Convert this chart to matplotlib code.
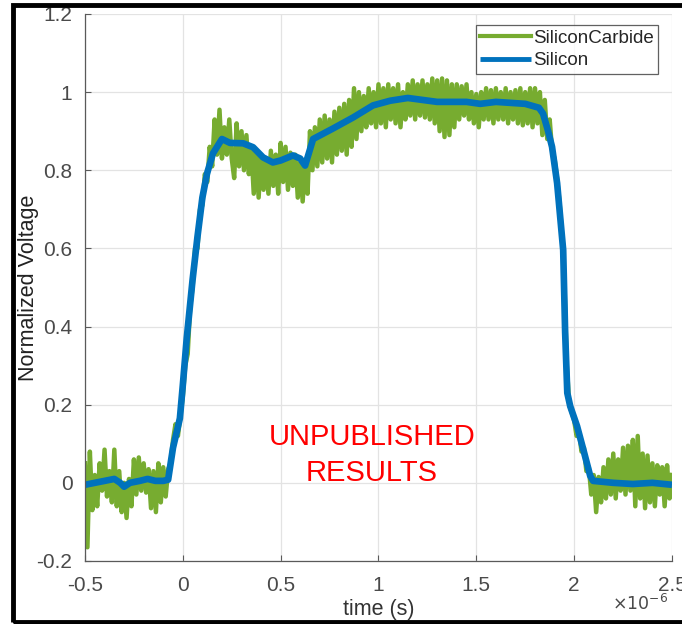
import numpy as np
import matplotlib
matplotlib.use("Agg")
from matplotlib import pyplot as plt
from matplotlib.patches import Rectangle

plt.rcParams['font.family'] = ['Liberation Sans', 'DejaVu Sans']

# SiliconCarbide probe, sampled every 12.5 ns starting at -0.5 us
sic_t0 = -0.5
sic_dt = 0.0125
sic_v = [
    0.05, -0.165, 0.08, -0.07, 0.02, -0.06, 0.05, -0.02,
    0.085, -0.035, 0.03, -0.05, 0.085, -0.06, 0.03, -0.075,
    0.0, -0.09, 0.01, -0.06, 0.06, -0.03, 0.065, -0.02,
    0.05, -0.025, 0.035, -0.065, 0.03, -0.075, 0.05, -0.05,
    0.04, -0.035, 0.035, 0.05, 0.11, 0.15, 0.12, 0.17,
    0.22, 0.3, 0.33, 0.45, 0.5, 0.6, 0.6, 0.7,
    0.71, 0.79, 0.77, 0.86, 0.81, 0.93, 0.84, 0.955,
    0.83, 0.91, 0.84, 0.93, 0.83, 0.78, 0.92, 0.81,
    0.9, 0.8, 0.89, 0.79, 0.86, 0.74, 0.85, 0.73,
    0.84, 0.75, 0.83, 0.74, 0.85, 0.76, 0.84, 0.74,
    0.87, 0.77, 0.86, 0.75, 0.845, 0.76, 0.84, 0.73,
    0.82, 0.72, 0.82, 0.74, 0.9, 0.8, 0.91, 0.81,
    0.93, 0.82, 0.94, 0.83, 0.93, 0.82, 0.95, 0.84,
    0.96, 0.85, 0.97, 0.84, 0.98, 0.86, 1.01, 0.88,
    1.0, 0.9, 0.99, 0.91, 1.01, 0.92, 1.0, 0.91,
    1.02, 0.92, 1.01, 0.91, 1.02, 0.93, 1.01, 0.92,
    1.02, 0.91, 1.0, 0.93, 1.02, 0.94, 1.03, 0.93,
    1.02, 0.94, 1.03, 0.935, 1.02, 0.93, 1.035, 0.92,
    1.03, 0.9, 1.035, 0.885, 1.03, 0.89, 1.02, 0.91,
    1.02, 0.93, 1.015, 0.94, 1.02, 0.93, 1.0, 0.92,
    0.995, 0.91, 1.0, 0.93, 1.01, 0.93, 1.005, 0.92,
    1.01, 0.93, 1.0, 0.93, 1.01, 0.92, 1.0, 0.93,
    1.005, 0.92, 1.01, 0.915, 1.0, 0.92, 1.01, 0.91,
    1.01, 0.92, 1.0, 0.89, 0.98, 0.88, 0.93, 0.85,
    0.83, 0.78, 0.72, 0.64, 0.52, 0.3, 0.2, 0.18,
    0.16, 0.12, 0.13, 0.08, 0.09, 0.03, 0.04, -0.03,
    0.02, -0.075, 0.015, -0.05, 0.04, -0.04, 0.06, -0.03,
    0.075, -0.04, 0.06, -0.02, 0.09, -0.03, 0.095, -0.02,
    0.11, -0.06, 0.12, -0.04, 0.075, -0.065, 0.07, -0.05,
    0.05, -0.06, 0.045, -0.03, 0.04, -0.06, 0.045, -0.04, 0.02,
]

# Silicon probe (time in us, normalized voltage)
si_t = [-0.5, -0.45, -0.4, -0.35, -0.32, -0.3, -0.27, -0.22, -0.18, -0.14,
        -0.1, -0.075, -0.05, -0.015, 0.0, 0.02, 0.05, 0.075, 0.1, 0.124,
        0.154, 0.2, 0.241, 0.308, 0.359, 0.41, 0.46, 0.5, 0.563, 0.6,
        0.625, 0.666, 0.768, 0.87, 0.972, 1.06, 1.15, 1.3, 1.45, 1.52,
        1.6, 1.75, 1.82, 1.841, 1.867, 1.887, 1.913, 1.944, 1.954, 1.965,
        1.98, 2.015, 2.046, 2.082, 2.097, 2.2, 2.3, 2.4, 2.5]
si_v = [-0.005, 0.0, 0.005, 0.01, 0.0, -0.01, 0.0, 0.005, 0.01, 0.005,
        0.005, 0.008, 0.09, 0.165, 0.25, 0.37, 0.52, 0.63, 0.73, 0.792,
        0.843, 0.88, 0.87, 0.869, 0.859, 0.833, 0.82, 0.825, 0.838, 0.83,
        0.812, 0.88, 0.907, 0.935, 0.966, 0.978, 0.985, 0.975, 0.975, 0.97,
        0.975, 0.97, 0.96, 0.945, 0.9, 0.86, 0.767, 0.596, 0.385, 0.23,
        0.196, 0.145, 0.087, 0.018, 0.005, 0.0, -0.003, 0.0, -0.005]

xticks = [-0.5, 0, 0.5, 1, 1.5, 2, 2.5]
xtick_labels = ['-0.5', '0', '0.5', '1', '1.5', '2', '2.5']
yticks = [-0.2, 0, 0.2, 0.4, 0.6, 0.8, 1, 1.2]
ytick_labels = ['-0.2', '0', '0.2', '0.4', '0.6', '0.8', '1', '1.2']

sic_t = sic_t0 + sic_dt * np.arange(len(sic_v))

fig = plt.figure(figsize=(6.82, 6.24), dpi=100)
ax = fig.add_axes([0.1246, 0.101, 0.8607, 0.8766])

ax.plot(sic_t, sic_v, color='#77AC30', lw=3.2, label='SiliconCarbide')
ax.plot(si_t, si_v, color='#0072BD', lw=4.8, label='Silicon',
        solid_capstyle='butt', solid_joinstyle='round')

ax.set_xlim(-0.5, 2.5)
ax.set_ylim(-0.2, 1.2)
ax.set_xticks(xticks)
ax.set_xticklabels(xtick_labels)
ax.set_yticks(yticks)
ax.set_yticklabels(ytick_labels)
ax.grid(True, color='#e3e3e3', lw=0.9)
ax.set_axisbelow(True)
for side in ['top', 'right']:
    ax.spines[side].set_visible(False)
for side in ['left', 'bottom']:
    ax.spines[side].set_color('#5a5a5a')
    ax.spines[side].set_linewidth(0.9)
ax.tick_params(direction='in', length=4, width=0.8, color='#5a5a5a',
               labelcolor='#4a4a4a', labelsize=15)
ax.tick_params(axis='x', pad=11)
ax.tick_params(axis='y', pad=9)

ax.set_xlabel('time (s)', fontsize=15.5, color='#333333', labelpad=3)
ax.set_ylabel('Normalized Voltage', fontsize=15.5, color='#222222')
ax.yaxis.set_label_coords(-0.079, 0.5)
fig.text(0.98, 0.022, r'$\times10^{-6}$', fontsize=12.5, color='#4a4a4a',
         ha='right', va='baseline')

leg = ax.legend(loc='upper right', bbox_to_anchor=(0.9765, 0.98),
                fontsize=13.5, frameon=True, fancybox=False,
                handlelength=2.7, handletextpad=0.1, borderpad=0.25,
                labelspacing=0.3, borderaxespad=0)
leg.get_frame().set_edgecolor('#3a3a3a')
leg.get_frame().set_linewidth(0.9)
for txt in leg.get_texts():
    txt.set_color('#262626')
leg.get_lines()[0].set_linewidth(3)
leg.get_lines()[1].set_linewidth(3.5)

fig.text(0.545, 0.2708, 'UNPUBLISHED\nRESULTS', color='red', fontsize=21,
         ha='center', va='center', linespacing=1.36)

# heavy black frame around the whole figure
fig.patches.append(Rectangle((0.0185, 0.004), 1.05, 0.988,
                             transform=fig.transFigure, fill=False,
                             edgecolor='black', lw=3.5))

fig.savefig('out.png', dpi=100)
